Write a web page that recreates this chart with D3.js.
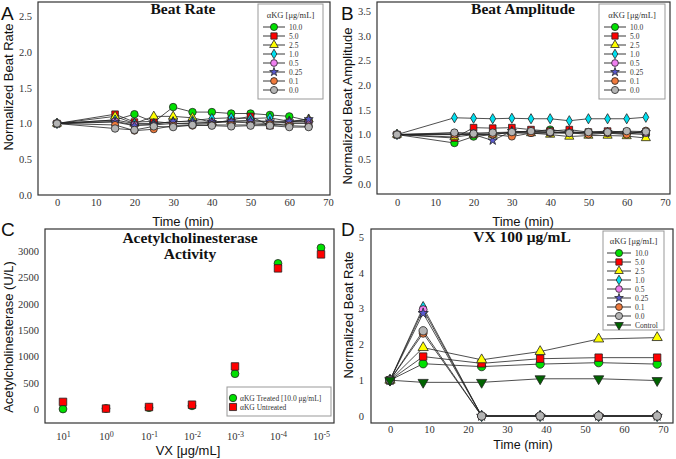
<!DOCTYPE html>
<html><head><meta charset="utf-8">
<script src="https://cdn.jsdelivr.net/npm/d3@7"></script>
<style>body{margin:0;background:#fff}svg{display:block}</style>
</head><body>
<svg id="c" width="676" height="459"></svg>
<script>
// ---------- DATA ----------
const concLabels = ["10.0","5.0","2.5","1.0","0.5","0.25","0.1","0.0"];
const timesAB = [0,15,20,25,30,35,40,45,50,55,60,65];
// Panel A: Beat Rate
const rate10   = [1,1.05,1.13,1.02,1.23,1.16,1.16,1.14,1.14,1.12,1.10,1.04];
const rate5    = [1,1.13,1.02,1.03,1.00,0.99,1.00,1.05,1.10,0.97,1.00,1.00];
const rate2_5  = [1,1.10,1.00,1.10,1.10,1.08,1.02,1.03,1.04,1.02,1.02,1.06];
const rate1    = [1,1.05,1.00,1.00,1.02,1.04,1.07,1.08,1.07,1.08,1.03,1.03];
const rate0_5  = [1,1.03,0.98,0.98,1.00,1.00,1.02,1.02,1.01,1.00,1.02,1.02];
const rate0_25 = [1,1.02,0.97,0.99,1.03,1.02,1.02,1.03,1.04,1.03,1.03,1.06];
const rate0_1  = [1,0.98,0.90,0.92,0.97,0.97,0.98,0.98,0.98,0.99,0.97,0.96];
const rate0    = [1,0.93,0.91,0.96,0.95,0.98,0.97,0.96,0.97,0.97,0.95,0.95];
// Panel B: Beat Amplitude
const amp10   = [1,0.83,0.96,1.00,1.05,1.06,1.10,1.05,1.05,1.05,1.02,1.00];
const amp5    = [1,0.93,1.14,1.13,1.14,1.10,1.07,1.10,1.05,1.07,1.05,1.05];
const amp2_5  = [1,0.95,1.00,1.00,1.05,1.03,1.00,0.96,0.98,0.98,0.97,0.93];
const amp1    = [1,1.34,1.33,1.32,1.33,1.32,1.32,1.28,1.32,1.32,1.32,1.35];
const amp0_5  = [1,1.03,1.03,1.03,1.03,1.03,1.03,1.03,1.03,1.03,1.03,1.03];
const amp0_25 = [1,1.00,1.00,0.88,1.07,1.05,1.05,1.05,1.03,1.05,1.03,1.05];
const amp0_1  = [1,1.00,1.00,1.00,0.96,1.03,1.04,1.04,1.00,1.03,1.00,1.08];
const amp0    = [1,1.04,1.02,1.04,1.05,1.07,1.05,1.03,1.05,1.05,1.07,1.06];
// Panel C: Acetylcholinesterase activity
const vxExponents = [1,0,-1,-2,-3,-4,-5];
const acheTreated   = [0,10,25,60,670,2765,3060];
const acheUntreated = [135,8,38,82,808,2670,2936];
// Panel D: VX 100 ug/mL
const timesD = [0,8.5,23.5,38.5,53.5,68.5];
const vx10   = [1,1.46,1.38,1.45,1.49,1.45];
const vx5    = [1,1.66,1.47,1.60,1.63,1.63];
const vx2_5  = [1,1.91,1.57,1.80,2.15,2.19];
const vx1    = [1,3.04,0,0,0,0];
const vx0_5  = [1,2.97,0,0,0,0];
const vx0_25 = [1,2.87,0,0,0,0];
const vx0_1  = [1,2.31,0,0,0,0];
const vx0    = [1,2.38,0,0,0,0];
const vxCtrl = [1,0.94,0.94,1.04,1.04,0.99];

// ---------- STYLES ----------
const styles = [
  {sym:d3.symbolCircle,   fill:"#00e000", size:44},
  {sym:d3.symbolSquare,   fill:"#ff0000", size:44},
  {sym:d3.symbolTriangle, fill:"#ffff00", size:36},
  {sym:d3.symbolDiamond,  fill:"#00e0f0", size:30},
  {sym:d3.symbolCircle,   fill:"#f080f0", size:40},
  {sym:d3.symbolStar,     fill:"#5a5ad0", size:26},
  {sym:d3.symbolCircle,   fill:"#f07a3c", size:40},
  {sym:d3.symbolCircle,   fill:"#b4b4b4", size:44},
];
const ctrlStyle = {sym:d3.symbolTriangle, fill:"#006400", size:36, rot:180};

const svg = d3.select("#c");
const serif = "Liberation Serif, Times New Roman, serif";
const sans = "Liberation Sans, Arial, sans-serif";

function frame(x0,x1,y0,y1){
  svg.append("rect").attr("x",x0).attr("y",y0).attr("width",x1-x0).attr("height",y1-y0)
    .attr("fill","none").attr("stroke","#333").attr("stroke-width",1.2);
}
function styleAxis(g){
  g.attr("font-family",serif).attr("font-size",10.5);
  g.select(".domain").remove();
  g.selectAll("text").attr("font-family",serif).attr("font-size",10.5).attr("fill","#333");
}
function text(x,y,t,opt={}){
  const e = svg.append("text").attr("x",x).attr("y",y).text(t)
    .attr("font-family",opt.ff||sans).attr("font-size",opt.fs||13)
    .attr("text-anchor",opt.anchor||"middle").attr("fill",opt.fill||"#111");
  if(opt.bold) e.attr("font-weight","bold");
  if(opt.rot) e.attr("transform",`rotate(-90,${x},${y})`);
  return e;
}
function marker(g,st,x,y,scale=1){
  g.append("path").attr("d",d3.symbol(st.sym,st.size*scale)())
    .attr("transform",`translate(${x},${y})${st.rot?` rotate(${st.rot})`:""}`)
    .attr("fill",st.fill).attr("stroke","#222").attr("stroke-width",0.8);
}
function series(x,y,times,vals,st,scale=1){
  const g = svg.append("g");
  const line = d3.line().x((d,i)=>x(times[i])).y(d=>y(d));
  g.append("path").attr("d",line(vals)).attr("fill","none").attr("stroke","#222").attr("stroke-width",0.8);
  vals.forEach((v,i)=>marker(g,st,x(times[i]),y(v),scale));
}
function legend(x0,y0,w,h,titleY,itemY0,dy,labels,sts,lineX0,lineX1,textX){
  svg.append("rect").attr("x",x0).attr("y",y0).attr("width",w).attr("height",h)
    .attr("fill","#fff").attr("stroke","#999").attr("stroke-width",1);
  text(x0+w/2,titleY,"αKG [μg/mL]",{ff:serif,fs:8.5,fill:"#333"});
  labels.forEach((lab,i)=>{
    const yy = itemY0+i*dy;
    const g = svg.append("g");
    g.append("line").attr("x1",lineX0).attr("x2",lineX1).attr("y1",yy).attr("y2",yy)
      .attr("stroke","#222").attr("stroke-width",0.9);
    marker(g,sts[i],(lineX0+lineX1)/2,yy,0.9);
    text(textX,yy+2.8,lab,{ff:serif,fs:7.5,anchor:"start",fill:"#333"});
  });
}

// ---------- PANEL A ----------
{
  const x = d3.scaleLinear([0,70],[57,328]);
  const y = d3.scaleLinear([0,2.7],[195,2]);
  svg.append("g").attr("transform","translate(0,195)")
    .call(d3.axisBottom(x).tickValues(d3.range(0,71,10)).tickSize(0).tickPadding(4)).call(styleAxis);
  svg.append("g").attr("transform","translate(38,0)")
    .call(d3.axisLeft(y).tickValues([0,0.5,1,1.5,2,2.5]).tickFormat(d3.format(".1f")).tickSize(0).tickPadding(6)).call(styleAxis);
  const data = [rate10,rate5,rate2_5,rate1,rate0_5,rate0_25,rate0_1,rate0];
  data.forEach((d,i)=>series(x,y,timesAB,d,styles[i]));
  frame(38,330,2,195);
  legend(258,4,65,95,18,27,9,concLabels,styles,263,285,289);
  text(183,14,"Beat Rate",{ff:serif,fs:15.5,bold:true});
  text(183,226,"Time (min)",{fs:13});
  text(13,87,"Normalized Beat Rate",{fs:13,rot:true});
  text(1,20,"A",{fs:19,anchor:"start"});
}
// ---------- PANEL B ----------
{
  const x = d3.scaleLinear([0,70],[397,665]);
  const y = d3.scaleLinear([0,3.5],[184,11]);
  svg.append("g").attr("transform","translate(0,194)")
    .call(d3.axisBottom(x).tickValues(d3.range(0,71,10)).tickSize(0).tickPadding(5)).call(styleAxis);
  svg.append("g").attr("transform","translate(377,0)")
    .call(d3.axisLeft(y).tickValues(d3.range(0,3.51,0.5)).tickFormat(d3.format(".1f")).tickSize(0).tickPadding(6)).call(styleAxis);
  const data = [amp10,amp5,amp2_5,amp1,amp0_5,amp0_25,amp0_1,amp0];
  data.forEach((d,i)=>series(x,y,timesAB,d,styles[i]));
  frame(377,670,2,194);
  legend(599,4,66,95,18,27,9,concLabels,styles,604,626,630);
  text(523,14,"Beat Amplitude",{ff:serif,fs:15.5,bold:true});
  text(523,226,"Time (min)",{fs:13});
  text(352,106,"Normalized Beat Amplitude",{fs:13,rot:true});
  text(341,20,"B",{fs:19,anchor:"start"});
}
// ---------- PANEL C ----------
{
  const x = d3.scalePoint(vxExponents,[63,321]);
  const y = d3.scaleLinear([0,3000],[409,251]);
  const ax = svg.append("g").attr("transform","translate(0,423)")
    .call(d3.axisBottom(x).tickSize(0).tickPadding(10)).call(styleAxis);
  ax.selectAll("text").each(function(d){
    const t = d3.select(this); t.text("");
    t.append("tspan").text("10");
    t.append("tspan").text(String(d)).attr("dy","-0.45em").attr("font-size",8);
  });
  svg.append("g").attr("transform","translate(45,0)")
    .call(d3.axisLeft(y).tickValues(d3.range(0,3001,500)).tickFormat(d3.format("d")).tickSize(0).tickPadding(6)).call(styleAxis);
  const g = svg.append("g");
  const stT = {sym:d3.symbolCircle, fill:"#00e000", size:48};
  const stU = {sym:d3.symbolSquare, fill:"#ff0000", size:56};
  acheTreated.forEach((v,i)=>marker(g,stT,x(vxExponents[i]),y(v)));
  acheUntreated.forEach((v,i)=>marker(g,stU,x(vxExponents[i]),y(v)));
  frame(45,334,229,423);
  svg.append("rect").attr("x",227).attr("y",387).attr("width",104).attr("height",29)
    .attr("fill","#fff").attr("stroke","#999");
  marker(svg,stT,233,398,0.9); marker(svg,stU,233,407,0.9);
  text(240,400.5,"αKG Treated [10.0  μg/mL]",{ff:serif,fs:7.5,anchor:"start",fill:"#333"});
  text(240,409.5,"αKG Untreated",{ff:serif,fs:7.5,anchor:"start",fill:"#333"});
  text(190,243,"Acetylcholinesterase",{ff:serif,fs:15.5,bold:true});
  text(190,259,"Activity",{ff:serif,fs:15.5,bold:true});
  text(188,455,"VX [μg/mL]",{fs:13});
  text(13,337,"Acetylcholinesterase (U/L)",{fs:13,rot:true});
  text(1,236,"C",{fs:19,anchor:"start"});
}
// ---------- PANEL D ----------
{
  const x = d3.scaleLinear([0,70],[390,663]);
  const y = d3.scaleLinear([0,5],[416,237]);
  svg.append("g").attr("transform","translate(0,423)")
    .call(d3.axisBottom(x).tickValues(d3.range(0,71,10)).tickSize(0).tickPadding(3)).call(styleAxis);
  svg.append("g").attr("transform","translate(371,0)")
    .call(d3.axisLeft(y).tickValues(d3.range(0,6,1)).tickFormat(d3.format("d")).tickSize(0).tickPadding(7)).call(styleAxis);
  const data = [vx10,vx5,vx2_5,vx1,vx0_5,vx0_25,vx0_1,vx0];
  data.forEach((d,i)=>series(x,y,timesD,d,styles[i],1.25));
  series(x,y,timesD,vxCtrl,ctrlStyle,1.25);
  frame(371,673,229,423);
  legend(603,231,61,99,244,253,9,concLabels.concat(["Control"]),styles.concat([ctrlStyle]),607,631,635);
  text(522,242,"VX 100  μg/mL",{ff:serif,fs:15.5,bold:true});
  text(523,449,"Time (min)",{fs:12.5});
  text(353,315,"Normalized Beat Rate",{fs:13,rot:true});
  text(341,236,"D",{fs:19,anchor:"start"});
}
</script>
</body></html>
